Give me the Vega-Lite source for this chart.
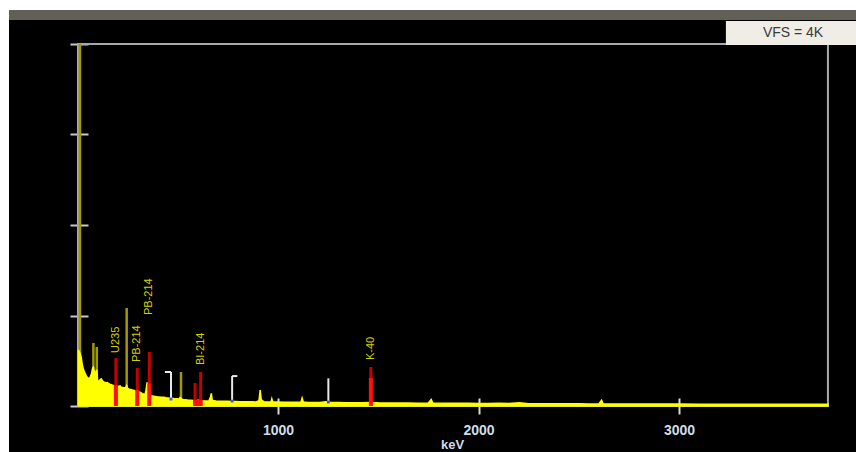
{
  "$schema": "https://vega.github.io/schema/vega-lite/v6.json",
  "width": 847,
  "height": 432,
  "autosize": "none",
  "padding": {"left": 9, "top": 20, "right": 0, "bottom": 0},
  "background": "white",
  "config": {
    "view": {"fill": "black", "stroke": null},
    "axisX": {
      "offset": -54, "domain": false, "grid": false,
      "tickSize": 16, "tickWidth": 2, "tickColor": "#d8d8d8",
      "labelColor": "#cfdcea", "labelFontSize": 14, "labelFontWeight": "bold", "labelFont": "Liberation Sans",
      "labelPadding": 9, "labelFlush": false, "labelOverlap": false,
      "titleColor": "#cfdcea", "titleFontSize": 13, "titleFontWeight": "bold", "titleFont": "Liberation Sans",
      "titleX": 443, "titleY": 40, "titleAlign": "center", "titleBaseline": "top"
    },
    "axisY": {
      "offset": -79, "domain": false, "grid": false,
      "labels": false, "tickSize": 18, "tickWidth": 2, "tickColor": "#c8c8c8"
    }
  },
  "datasets": {
    "spectrum": [
      {"keV": 4, "counts": 620}, {"keV": 8, "counts": 600}, {"keV": 12, "counts": 586}, {"keV": 18, "counts": 540},
      {"keV": 24, "counts": 450}, {"keV": 30, "counts": 400}, {"keV": 37, "counts": 365}, {"keV": 44, "counts": 330},
      {"keV": 50, "counts": 315}, {"keV": 57, "counts": 300}, {"keV": 63, "counts": 320}, {"keV": 70, "counts": 360},
      {"keV": 75, "counts": 420}, {"keV": 79, "counts": 430}, {"keV": 84, "counts": 380}, {"keV": 90, "counts": 370},
      {"keV": 96, "counts": 400}, {"keV": 100, "counts": 280}, {"keV": 106, "counts": 270}, {"keV": 112, "counts": 290},
      {"keV": 118, "counts": 300}, {"keV": 124, "counts": 280}, {"keV": 130, "counts": 265}, {"keV": 136, "counts": 262},
      {"keV": 142, "counts": 255}, {"keV": 148, "counts": 258}, {"keV": 154, "counts": 250}, {"keV": 160, "counts": 242},
      {"keV": 166, "counts": 238}, {"keV": 172, "counts": 232}, {"keV": 178, "counts": 228}, {"keV": 185, "counts": 222},
      {"keV": 192, "counts": 215}, {"keV": 199, "counts": 212}, {"keV": 206, "counts": 218}, {"keV": 212, "counts": 222},
      {"keV": 218, "counts": 208}, {"keV": 226, "counts": 204}, {"keV": 234, "counts": 200}, {"keV": 240, "counts": 205},
      {"keV": 245, "counts": 225}, {"keV": 250, "counts": 195}, {"keV": 258, "counts": 186}, {"keV": 266, "counts": 182},
      {"keV": 274, "counts": 176}, {"keV": 282, "counts": 172}, {"keV": 290, "counts": 166}, {"keV": 298, "counts": 162},
      {"keV": 306, "counts": 156}, {"keV": 314, "counts": 150}, {"keV": 322, "counts": 140}, {"keV": 330, "counts": 132},
      {"keV": 336, "counts": 126}, {"keV": 341, "counts": 170}, {"keV": 347, "counts": 262}, {"keV": 352, "counts": 200},
      {"keV": 358, "counts": 140}, {"keV": 366, "counts": 115}, {"keV": 376, "counts": 110}, {"keV": 386, "counts": 106},
      {"keV": 396, "counts": 102}, {"keV": 406, "counts": 100}, {"keV": 418, "counts": 96}, {"keV": 430, "counts": 97},
      {"keV": 442, "counts": 92}, {"keV": 455, "counts": 88}, {"keV": 468, "counts": 85}, {"keV": 480, "counts": 82},
      {"keV": 492, "counts": 80}, {"keV": 505, "counts": 78}, {"keV": 512, "counts": 95}, {"keV": 520, "counts": 76},
      {"keV": 535, "counts": 68}, {"keV": 550, "counts": 66}, {"keV": 565, "counts": 65}, {"keV": 580, "counts": 62},
      {"keV": 595, "counts": 62}, {"keV": 610, "counts": 66}, {"keV": 625, "counts": 58}, {"keV": 640, "counts": 56},
      {"keV": 655, "counts": 56}, {"keV": 663, "counts": 100}, {"keV": 667, "counts": 140}, {"keV": 672, "counts": 62},
      {"keV": 690, "counts": 55}, {"keV": 710, "counts": 54}, {"keV": 730, "counts": 52}, {"keV": 750, "counts": 52},
      {"keV": 770, "counts": 50}, {"keV": 790, "counts": 49}, {"keV": 810, "counts": 48}, {"keV": 830, "counts": 48},
      {"keV": 850, "counts": 46}, {"keV": 870, "counts": 46}, {"keV": 890, "counts": 45}, {"keV": 905, "counts": 60},
      {"keV": 911, "counts": 175}, {"keV": 916, "counts": 70}, {"keV": 930, "counts": 46}, {"keV": 950, "counts": 44},
      {"keV": 965, "counts": 44}, {"keV": 969, "counts": 80}, {"keV": 974, "counts": 44}, {"keV": 1000, "counts": 44},
      {"keV": 1030, "counts": 42}, {"keV": 1060, "counts": 42}, {"keV": 1090, "counts": 41}, {"keV": 1115, "counts": 45},
      {"keV": 1120, "counts": 88}, {"keV": 1126, "counts": 45}, {"keV": 1150, "counts": 40}, {"keV": 1180, "counts": 40},
      {"keV": 1210, "counts": 39}, {"keV": 1238, "counts": 48}, {"keV": 1260, "counts": 39}, {"keV": 1300, "counts": 38},
      {"keV": 1340, "counts": 37}, {"keV": 1380, "counts": 37}, {"keV": 1420, "counts": 36}, {"keV": 1460, "counts": 40},
      {"keV": 1500, "counts": 35}, {"keV": 1550, "counts": 34}, {"keV": 1600, "counts": 34}, {"keV": 1650, "counts": 33},
      {"keV": 1700, "counts": 32}, {"keV": 1750, "counts": 34}, {"keV": 1764, "counts": 72}, {"keV": 1772, "counts": 34},
      {"keV": 1800, "counts": 32}, {"keV": 1850, "counts": 31}, {"keV": 1900, "counts": 30}, {"keV": 1950, "counts": 30},
      {"keV": 2000, "counts": 29}, {"keV": 2050, "counts": 28}, {"keV": 2100, "counts": 30}, {"keV": 2150, "counts": 27},
      {"keV": 2204, "counts": 36}, {"keV": 2250, "counts": 26}, {"keV": 2300, "counts": 26}, {"keV": 2350, "counts": 25},
      {"keV": 2400, "counts": 25}, {"keV": 2450, "counts": 24}, {"keV": 2500, "counts": 24}, {"keV": 2550, "counts": 23},
      {"keV": 2600, "counts": 23}, {"keV": 2614, "counts": 65}, {"keV": 2622, "counts": 23}, {"keV": 2700, "counts": 22},
      {"keV": 2800, "counts": 22}, {"keV": 2900, "counts": 21}, {"keV": 3000, "counts": 21}, {"keV": 3100, "counts": 20},
      {"keV": 3200, "counts": 20}, {"keV": 3300, "counts": 20}, {"keV": 3400, "counts": 20}, {"keV": 3500, "counts": 20},
      {"keV": 3600, "counts": 20}, {"keV": 3743, "counts": 20}
    ],
    "peaks": [
      {"keV": 12, "counts": 4000}, {"keV": 79, "counts": 696}, {"keV": 96, "counts": 652},
      {"keV": 245, "counts": 1083}, {"keV": 516, "counts": 376}
    ],
    "markers": [
      {"label": "U235", "keV": 191, "top": 530, "labelAt": 586},
      {"label": "PB-214", "keV": 298, "top": 420, "labelAt": 486},
      {"label": "PB-214", "keV": 358, "top": 597, "labelAt": 1006},
      {"label": "", "keV": 586, "top": 254, "labelAt": 0},
      {"label": "BI-214", "keV": 614, "top": 376, "labelAt": 453},
      {"label": "K-40", "keV": 1463, "top": 431, "labelAt": 508}
    ],
    "roiCounts": [
      {"keV": 191, "counts": 232}, {"keV": 298, "counts": 177}, {"keV": 358, "counts": 250},
      {"keV": 586, "counts": 66}, {"keV": 600, "counts": 66}, {"keV": 614, "counts": 66},
      {"keV": 1463, "counts": 310}
    ],
    "roiMarks": [
      {"e1": 466, "e2": 466, "c1": 77, "c2": 376},
      {"e1": 436, "e2": 466, "c1": 376, "c2": 376},
      {"e1": 771, "e2": 771, "c1": 55, "c2": 331},
      {"e1": 771, "e2": 797, "c1": 331, "c2": 331},
      {"e1": 1251, "e2": 1251, "c1": 44, "c2": 306}
    ],
    "cursorDots": [
      {"keV": 466, "counts": 77}, {"keV": 771, "counts": 55}, {"keV": 1251, "counts": 44}
    ],
    "box": [{"text": "VFS = 4K", "e1": 3234, "e2": 3883, "c1": 3989, "c2": 4254, "tx": 3569, "ty": 4118}],
    "band": [{"e1": -342, "e2": 3883, "c1": 4265, "c2": 4376}],
    "frame": [{"e1": 2, "e2": 3743, "c1": 0, "c2": 4000}]
  },
  "layer": [
    {
      "data": {"name": "band"},
      "mark": {"type": "rect", "color": "#625f54"},
      "encoding": {
        "x": {"field": "e1", "type": "quantitative", "title": "keV", "scale": {"domain": [-342, 3883], "nice": false, "zero": false}, "axis": {"values": [1000, 2000, 3000], "format": "d"}},
        "x2": {"field": "e2"},
        "y": {"field": "c1", "type": "quantitative", "title": null, "scale": {"domain": [-508, 4265], "nice": false, "zero": false}, "axis": {"values": [0, 1000, 2000, 3000, 4000]}},
        "y2": {"field": "c2"}
      }
    },
    {
      "data": {"name": "frame"},
      "mark": {"type": "rect", "fillOpacity": 0, "stroke": "#a8a8a8", "strokeWidth": 2},
      "encoding": {
        "x": {"field": "e1", "type": "quantitative", "title": "keV"},
        "x2": {"field": "e2"},
        "y": {"field": "c1", "type": "quantitative", "title": null},
        "y2": {"field": "c2"}
      }
    },
    {
      "data": {"name": "peaks"},
      "mark": {"type": "rule", "color": "#a09a00", "strokeWidth": 2.5},
      "encoding": {
        "x": {"field": "keV", "type": "quantitative", "title": "keV"},
        "y": {"field": "counts", "type": "quantitative", "title": null},
        "y2": {"datum": 0}
      }
    },
    {
      "data": {"name": "spectrum"},
      "mark": {"type": "area", "color": "#ffff00", "stroke": "#ffff00", "strokeWidth": 1.5, "interpolate": "linear"},
      "encoding": {
        "x": {"field": "keV", "type": "quantitative", "title": "keV"},
        "y": {"field": "counts", "type": "quantitative", "title": null},
        "y2": {"datum": 0}
      }
    },
    {
      "data": {"name": "markers"},
      "mark": {"type": "rule", "color": "#c40000", "strokeWidth": 3},
      "encoding": {
        "x": {"field": "keV", "type": "quantitative", "title": "keV"},
        "y": {"field": "top", "type": "quantitative", "title": null},
        "y2": {"datum": 0}
      }
    },
    {
      "data": {"name": "roiCounts"},
      "mark": {"type": "rule", "color": "#ff1010", "strokeWidth": 4},
      "encoding": {
        "x": {"field": "keV", "type": "quantitative", "title": "keV"},
        "y": {"field": "counts", "type": "quantitative", "title": null},
        "y2": {"datum": 0}
      }
    },
    {
      "data": {"name": "roiMarks"},
      "mark": {"type": "rule", "color": "#e8e8e8", "strokeWidth": 2},
      "encoding": {
        "x": {"field": "e1", "type": "quantitative", "title": "keV"},
        "x2": {"field": "e2"},
        "y": {"field": "c1", "type": "quantitative", "title": null},
        "y2": {"field": "c2"}
      }
    },
    {
      "data": {"name": "cursorDots"},
      "mark": {"type": "square", "color": "#3355ff", "size": 8, "opacity": 1},
      "encoding": {
        "x": {"field": "keV", "type": "quantitative", "title": "keV"},
        "y": {"field": "counts", "type": "quantitative", "title": null}
      }
    },
    {
      "data": {"name": "markers"},
      "transform": [{"filter": "datum.label !== ''"}],
      "mark": {"type": "text", "angle": 270, "align": "left", "baseline": "middle", "color": "#d6d200", "font": "Liberation Sans", "fontSize": 11},
      "encoding": {
        "x": {"field": "keV", "type": "quantitative", "title": "keV"},
        "y": {"field": "labelAt", "type": "quantitative", "title": null},
        "text": {"field": "label"}
      }
    },
    {
      "data": {"name": "box"},
      "mark": {"type": "rect", "color": "#efede5"},
      "encoding": {
        "x": {"field": "e1", "type": "quantitative", "title": "keV"},
        "x2": {"field": "e2"},
        "y": {"field": "c1", "type": "quantitative", "title": null},
        "y2": {"field": "c2"}
      }
    },
    {
      "data": {"name": "box"},
      "mark": {"type": "text", "color": "#3a3a3a", "font": "Liberation Sans", "fontSize": 14, "align": "center", "baseline": "middle"},
      "encoding": {
        "x": {"field": "tx", "type": "quantitative", "title": "keV"},
        "y": {"field": "ty", "type": "quantitative", "title": null},
        "text": {"field": "text"}
      }
    }
  ]
}
